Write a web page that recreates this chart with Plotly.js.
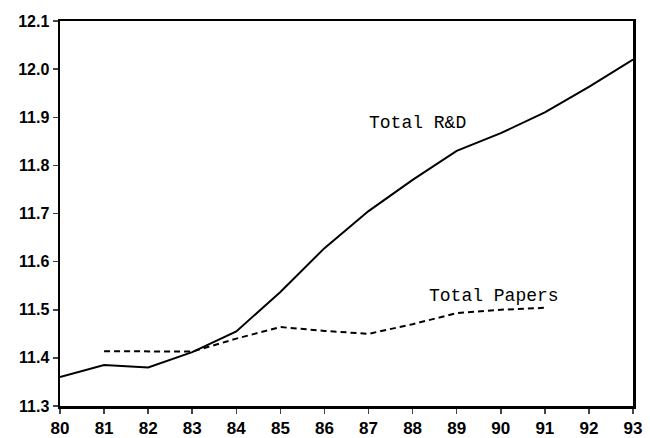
<!DOCTYPE html>
<html>
<head>
<meta charset="utf-8">
<script src="https://cdn.plot.ly/plotly-3.0.1.min.js"></script>
<style>html,body{margin:0;padding:0;background:#fff;}#chart{width:650px;height:438px;}</style>
</head>
<body>
<div id="chart"></div>
<script>
var years = [80, 81, 82, 83, 84, 85, 86, 87, 88, 89, 90, 91, 92, 93];
var totalRD = [11.36, 11.385, 11.38, 11.412, 11.455, 11.537, 11.628, 11.705, 11.77, 11.83, 11.867, 11.91, 11.963, 12.02];
var papersYears = [81, 82, 83, 84, 85, 86, 87, 88, 89, 90, 91];
var totalPapers = [11.414, 11.414, 11.413, 11.44, 11.464, 11.456, 11.45, 11.47, 11.493, 11.5, 11.504];
var tickVals = [80, 81, 82, 83, 84, 85, 86, 87, 88, 89, 90, 91, 92, 93];
var yTicks = [11.3, 11.4, 11.5, 11.6, 11.7, 11.8, 11.9, 12.0, 12.1];
var yTickText = ['11.3', '11.4', '11.5', '11.6', '11.7', '11.8', '11.9', '12.0', '12.1'];

var traces = [
  {x: years, y: totalRD, mode: 'lines', name: 'Total R&D', line: {color: '#000', width: 2}},
  {x: papersYears, y: totalPapers, mode: 'lines', name: 'Total Papers', line: {color: '#000', width: 2, dash: '6px,4px'}}
];

var layout = {
  width: 650, height: 438,
  margin: {l: 60, r: 17, t: 21, b: 32},
  paper_bgcolor: '#fff', plot_bgcolor: '#fff',
  showlegend: false,
  font: {family: 'Liberation Sans, Arial, sans-serif', size: 15, color: '#000'},
  xaxis: {
    range: [80, 93], tickvals: tickVals, ticks: 'outside', ticklen: 5, tickwidth: 1.5,
    showgrid: false, zeroline: false, showline: true, linecolor: '#000', linewidth: 2.5, mirror: true,
    tickfont: {size: 17, family: 'Liberation Sans, Arial, sans-serif', weight: 600}
  },
  yaxis: {
    range: [11.3, 12.1], tickvals: yTicks, ticktext: yTickText, ticks: 'outside', ticklen: 5, tickwidth: 1.5,
    showgrid: false, zeroline: false, showline: true, linecolor: '#000', linewidth: 2.5, mirror: true,
    tickfont: {size: 16, family: 'Liberation Sans, Arial, sans-serif', weight: 600}
  },
  annotations: [
    {x: 88.1, y: 11.888, xref: 'x', yref: 'y', text: 'Total R&amp;D', showarrow: false,
     font: {family: 'Liberation Mono, Courier New, monospace', size: 18, color: '#000'}},
    {x: 89.85, y: 11.528, xref: 'x', yref: 'y', text: 'Total Papers', showarrow: false,
     font: {family: 'Liberation Mono, Courier New, monospace', size: 18, color: '#000'}}
  ]
};

Plotly.newPlot('chart', traces, layout, {displayModeBar: false, staticPlot: true});
</script>
</body>
</html>
